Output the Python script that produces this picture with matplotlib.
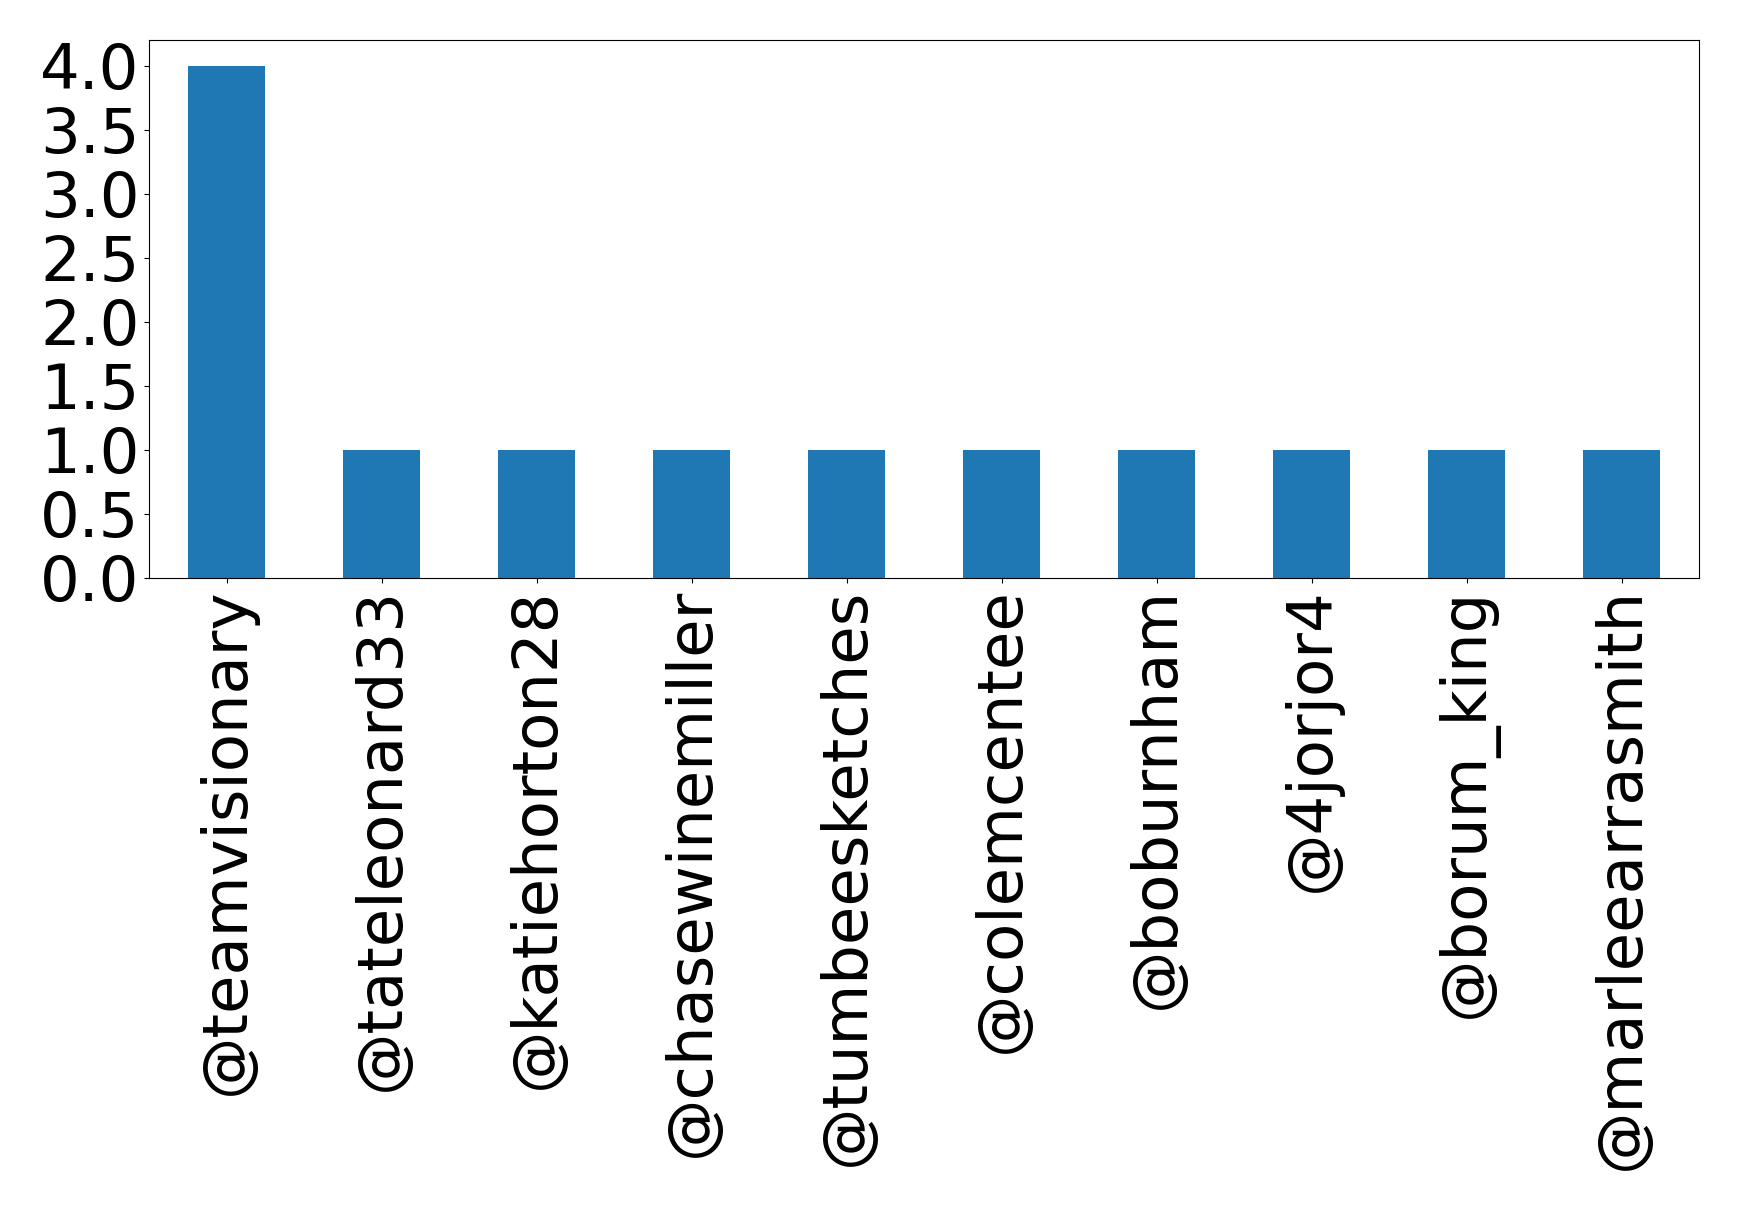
import matplotlib
matplotlib.use("Agg")
import matplotlib.pyplot as plt
import pandas as pd

# accounts and mention counts
users = ['@teamvisionary', '@tateleonard33', '@katiehorton28', '@chasewinemiller',
         '@tumbeesketches', '@colemcentee', '@boburnham', '@4jorjor4',
         '@borum_king', '@marleearrasmith']
counts = [4, 1, 1, 1, 1, 1, 1, 1, 1, 1]

s = pd.Series(counts, index=users)

fig, ax = plt.subplots(figsize=(17.39, 12.11), dpi=100)
s.plot(kind='bar', ax=ax, color='#1f77b4', fontsize=45)
ax.set_yticks([0.0, 0.5, 1.0, 1.5, 2.0, 2.5, 3.0, 3.5, 4.0])
ax.tick_params(axis='x', labelrotation=90)

plt.subplots_adjust(left=0.0857, right=0.977, top=0.967, bottom=0.523)
plt.savefig('out.png', dpi=100)
